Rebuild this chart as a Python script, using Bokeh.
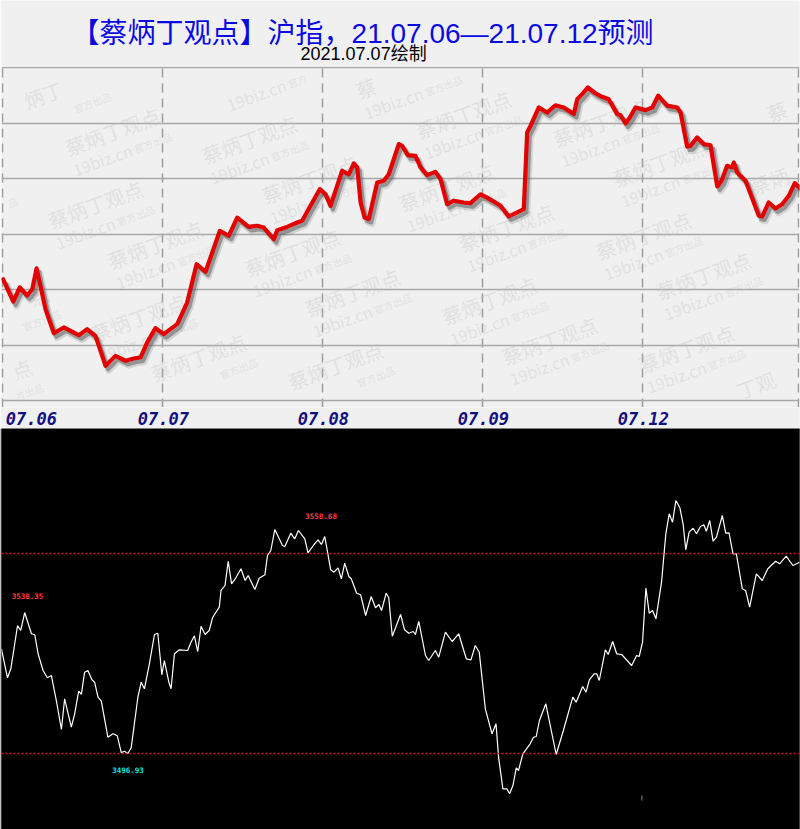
import numpy as np
from bokeh.plotting import figure
from bokeh.models import Range1d, FixedTicker, Span
from bokeh.layouts import column
from bokeh.core.properties import value
from bokeh.embed import file_html
from bokeh.resources import INLINE

# ---------------- data ----------------
TITLE = "【蔡炳丁观点】沪指，21.07.06—21.07.12预测"
SUBTITLE = "2021.07.07绘制"
DAY_LABELS = ["07.06", "07.07", "07.08", "07.09", "07.12"]
DAY_TICKS = [0, 1, 2, 3, 4]
LABEL_POS = [0.18, 1.006, 2.006, 3.006, 4.006]
GRID_Y = [3450, 3475, 3500, 3525, 3550, 3575, 3600]
WM_NAME = "蔡炳丁观点"
WM_SITE = "19biz.cn"
WM_TAG = "官方出品"

# forecast curve (x in trading days from 07.06 open, y index points)
TOP_X = [0.004, 0.067, 0.108, 0.154, 0.186, 0.213, 0.269, 0.321, 0.383, 0.477,
         0.529, 0.581, 0.644, 0.706, 0.769, 0.821, 0.863, 0.904, 0.956, 1.008,
         1.092, 1.154, 1.213, 1.269, 1.358, 1.414, 1.467, 1.539, 1.592, 1.633,
         1.696, 1.717, 1.779, 1.842, 1.873, 1.925, 1.983, 2.019, 2.050, 2.123,
         2.164, 2.196, 2.217, 2.238, 2.263, 2.289, 2.342, 2.383, 2.414, 2.477,
         2.498, 2.533, 2.581, 2.613, 2.654, 2.706, 2.738, 2.779, 2.821, 2.883,
         2.925, 2.988, 3.029, 3.081, 3.113, 3.164, 3.217, 3.258, 3.279, 3.300,
         3.352, 3.404, 3.456, 3.508, 3.571, 3.592, 3.623, 3.658, 3.706, 3.748,
         3.789, 3.842, 3.863, 3.894, 3.921, 3.956, 4.019, 4.061, 4.098, 4.154,
         4.217, 4.238, 4.279, 4.300, 4.342, 4.383, 4.425, 4.467, 4.494, 4.529,
         4.561, 4.571, 4.592, 4.644, 4.727, 4.748, 4.789, 4.831, 4.873, 4.914,
         4.952, 4.988]
TOP_Y = [3504.6, 3494.6, 3500.9, 3497.3, 3500.1, 3509.5, 3491.1, 3480.3, 3482.9, 3479.4,
         3482.1, 3479.1, 3465.6, 3470.1, 3467.9, 3468.9, 3469.4, 3476.1, 3482.6, 3479.9,
         3484.4, 3494.1, 3511.4, 3508.0, 3526.4, 3524.2, 3532.4, 3528.2, 3528.7, 3527.9,
         3522.7, 3526.7, 3528.2, 3530.2, 3531.0, 3537.7, 3545.2, 3542.9, 3537.7, 3553.5,
         3551.9, 3556.8, 3555.0, 3539.2, 3532.4, 3531.7, 3548.2, 3549.0, 3551.9, 3565.5,
         3564.7, 3560.5, 3560.2, 3555.0, 3551.5, 3553.0, 3549.7, 3538.4, 3540.0, 3539.2,
         3538.9, 3542.9, 3541.4, 3539.2, 3537.7, 3532.9, 3534.7, 3536.2, 3570.7, 3573.7,
         3582.0, 3579.7, 3583.0, 3582.0, 3579.0, 3585.7, 3588.0, 3591.0, 3588.4, 3586.8,
         3585.7, 3579.0, 3578.5, 3574.8, 3577.5, 3582.0, 3580.8, 3582.0, 3587.3, 3582.8,
         3582.0, 3579.7, 3564.4, 3564.7, 3568.5, 3565.5, 3565.0, 3546.4, 3549.0, 3555.7,
         3555.0, 3557.2, 3552.7, 3549.0, 3533.2, 3532.9, 3539.2, 3536.5, 3538.4, 3542.2,
         3547.9, 3545.5]

# reference curve (lower black panel)
BOT_X = [-0.013, 0.025, 0.046, 0.088, 0.108, 0.133, 0.175, 0.196, 0.217, 0.248,
         0.275, 0.300, 0.331, 0.363, 0.383, 0.425, 0.446, 0.471, 0.488, 0.508,
         0.529, 0.554, 0.571, 0.592, 0.613, 0.654, 0.686, 0.713, 0.738, 0.758,
         0.779, 0.800, 0.842, 0.863, 0.883, 0.914, 0.946, 0.967, 0.992, 1.008,
         1.036, 1.050, 1.071, 1.102, 1.154, 1.175, 1.196, 1.217, 1.238, 1.263,
         1.289, 1.311, 1.352, 1.363, 1.388, 1.408, 1.429, 1.456, 1.488, 1.514,
         1.533, 1.575, 1.602, 1.638, 1.654, 1.675, 1.700, 1.748, 1.763, 1.800,
         1.825, 1.848, 1.888, 1.908, 1.946, 1.971, 1.992, 2.013, 2.050, 2.071,
         2.096, 2.117, 2.138, 2.164, 2.179, 2.213, 2.238, 2.269, 2.304, 2.331,
         2.352, 2.369, 2.398, 2.414, 2.436, 2.488, 2.513, 2.539, 2.567, 2.581,
         2.602, 2.644, 2.664, 2.706, 2.727, 2.769, 2.811, 2.852, 2.900, 2.929,
         2.956, 2.981, 3.019, 3.061, 3.086, 3.102, 3.129, 3.154, 3.171, 3.192,
         3.213, 3.227, 3.254, 3.300, 3.321, 3.338, 3.358, 3.398, 3.463, 3.508,
         3.567, 3.588, 3.629, 3.650, 3.671, 3.700, 3.717, 3.733, 3.771, 3.789,
         3.817, 3.842, 3.873, 3.936, 3.967, 3.983, 4.004, 4.025, 4.046, 4.067,
         4.088, 4.123, 4.150, 4.171, 4.192, 4.213, 4.238, 4.258, 4.275, 4.296,
         4.321, 4.342, 4.367, 4.388, 4.404, 4.425, 4.446, 4.467, 4.504, 4.525,
         4.546, 4.571, 4.592, 4.629, 4.650, 4.675, 4.717, 4.754, 4.789, 4.838,
         4.863, 4.904, 4.946, 4.988]
BOT_Y = [3529.26, 3520.30, 3523.08, 3536.45, 3534.91, 3540.46, 3533.89, 3533.58, 3527.71, 3522.56,
         3520.30, 3521.01, 3513.29, 3504.34, 3513.82, 3505.05, 3509.19, 3516.17, 3515.15, 3522.03,
         3522.56, 3519.68, 3518.94, 3514.31, 3513.08, 3501.96, 3503.01, 3502.39, 3497.20, 3497.64,
         3496.93, 3498.69, 3514.31, 3518.94, 3516.91, 3524.62, 3533.67, 3534.07, 3521.23, 3525.64,
         3518.94, 3516.91, 3527.71, 3528.95, 3528.73, 3531.29, 3533.27, 3528.42, 3536.23, 3533.67,
         3534.91, 3539.01, 3542.10, 3547.26, 3548.80, 3556.30, 3549.32, 3551.18, 3553.96, 3550.34,
         3551.89, 3547.57, 3551.05, 3552.10, 3558.06, 3559.61, 3566.09, 3561.15, 3560.84, 3564.95,
         3563.22, 3565.78, 3563.22, 3558.90, 3561.46, 3562.91, 3561.46, 3563.93, 3553.65, 3552.91,
         3554.26, 3550.87, 3555.69, 3551.58, 3550.87, 3546.42, 3545.93, 3539.54, 3545.40, 3541.91,
         3542.93, 3541.08, 3546.42, 3545.00, 3533.15, 3539.85, 3535.12, 3534.07, 3534.60, 3533.67,
         3537.69, 3527.19, 3525.64, 3528.73, 3526.66, 3534.38, 3531.51, 3533.89, 3526.17, 3525.86,
         3530.28, 3528.21, 3510.73, 3503.01, 3506.10, 3495.79, 3486.03, 3486.03, 3484.49, 3487.05,
         3492.51, 3491.68, 3496.84, 3499.92, 3501.96, 3502.18, 3507.12, 3512.28, 3496.62, 3504.03,
         3514.31, 3512.77, 3517.62, 3515.86, 3519.68, 3521.54, 3521.54, 3519.47, 3528.95, 3527.50,
         3531.51, 3527.71, 3527.50, 3524.10, 3527.19, 3526.88, 3531.29, 3547.97, 3540.25, 3541.08,
         3538.52, 3549.82, 3564.76, 3570.94, 3568.34, 3575.04, 3572.79, 3567.85, 3559.82, 3565.26,
         3566.49, 3564.76, 3567.02, 3567.54, 3565.56, 3568.87, 3562.48, 3563.71, 3570.41, 3564.95,
         3565.07, 3558.59, 3558.59, 3547.78, 3547.26, 3542.10, 3552.41, 3550.34, 3553.96, 3556.30,
         3555.50, 3557.85, 3554.98, 3555.99]

LEVELS = [3558.68, 3496.93]                 # dotted reference lines
MARK_TEXT = ["3558.68", "3538.35", "3496.93"]
MARK_VAL = [3558.68, 3538.35, 3496.93]
MARK_X = [1.99, 0.15, 0.78]
MARK_COLOR = ["#ff3b3b", "#ff3b3b", "#19e6e6"]

# ---------------- layout constants ----------------
W = 800
PX_PER_DAY = 160.0
PTS_PER_PX = 150.0 / 333.0
BG = "#f0f0f0"
CJK = value("Liberation Sans, Noto Sans CJK SC")

# ---------- title strip ----------
tf = figure(width=W, height=66, x_range=Range1d(0, 800), y_range=Range1d(66, 0),
            x_axis_location=None, y_axis_location=None, toolbar_location=None,
            output_backend="svg", min_border=0, outline_line_color=None,
            background_fill_color=BG, border_fill_color=BG)
tf.grid.visible = False
tf.text(x=[362], y=[33], text=[TITLE], text_font=CJK, text_font_size="28px",
        text_color="#0a0ae0", text_align="center", text_baseline="middle")
tf.text(x=[363], y=[53], text=[SUBTITLE], text_font=CJK, text_font_size="18px",
        text_color="#000000", text_align="center", text_baseline="middle")

# ---------- forecast panel ----------
x0 = -1 / PX_PER_DAY
x1 = 797 / PX_PER_DAY
ytop = 3450 + 334 * PTS_PER_PX
ybot = 3450 - 7 * PTS_PER_PX
cf = figure(width=W, height=341, x_range=Range1d(x0, x1), y_range=Range1d(ybot, ytop),
            x_axis_location=None, y_axis_location=None, toolbar_location=None,
            output_backend="svg", min_border_left=1, min_border_right=1,
            min_border_top=0, min_border_bottom=0, outline_line_color=None,
            background_fill_color=BG, border_fill_color=BG)

# watermarks (decorative lattice: two tiles per cell); pieces that would be
# cut by the frame edge are dropped character by character
th = np.deg2rad(20.0)
u = np.array([np.cos(th), -np.sin(th)])
nv = np.array([np.sin(th), np.cos(th)])
A0 = np.array([5.0, 108.0])
w1 = np.array([154.0, -65.0])
w2 = np.array([43.0, 113.0])
pair = np.array([60.0, 40.0])
FX0, FX1, FY0, FY1 = 1.0, 799.0, 66.0, 407.0


def inside(p, m):
    return FX0 + m <= p[0] <= FX1 - m and FY0 + m <= p[1] <= FY1 - m


wm = {}  # (size, align) -> list of (point, text)


def put(key, p, t):
    wm.setdefault(key, []).append((p, t))


for i in range(-4, 9):
    for j in range(-4, 9):
        for extra in (np.zeros(2), pair):
            P = A0 + i * w1 + j * w2 + extra
            c1 = [P + (10 + 20 * k) * u for k in range(len(WM_NAME))]
            ok1 = [inside(c, 19) for c in c1]
            if all(ok1):
                put((20, "left"), P, WM_NAME)
            else:
                for k, c in enumerate(c1):
                    if ok1[k]:
                        put((20, "center"), c, WM_NAME[k])
            Q = P + 23 * nv
            if inside(Q, 12) and inside(Q + 62 * u, 12):
                put((16, "left"), Q, WM_SITE)
            R = Q + 64 * u + 1 * nv
            c3 = [R + (5 + 10 * k) * u for k in range(len(WM_TAG))]
            ok3 = [inside(c, 10) for c in c3]
            if all(ok3):
                put((10, "left"), R, WM_TAG)
            else:
                for k, c in enumerate(c3):
                    if ok3[k]:
                        put((10, "center"), c, WM_TAG[k])

wm_font = value("Noto Sans CJK SC")
for (size, align), items in wm.items():
    pts = np.array([p for p, _ in items])
    xs = (pts[:, 0] - 2) / PX_PER_DAY
    ys = 3450 + (400 - pts[:, 1]) * PTS_PER_PX
    cf.text(x=xs, y=ys, text=[t for _, t in items], angle=th, text_font=wm_font,
            text_font_size=f"{size}px", text_color="#c0c0c0", text_alpha=0.34,
            text_align=align, text_baseline="middle")

# grids
cf.xgrid.ticker = FixedTicker(ticks=DAY_TICKS + [x1 - 0.005])
cf.xgrid.grid_line_color = "#9c9c9c"
cf.xgrid.grid_line_width = 1.5
cf.xgrid.grid_line_dash = "9 6"
cf.ygrid.ticker = FixedTicker(ticks=GRID_Y)
cf.ygrid.grid_line_color = "#a8a8a8"
cf.ygrid.grid_line_width = 1.5

# shadow + red line
sx = 2.5 / PX_PER_DAY
sy = 3.5 * PTS_PER_PX
tx = np.array(TOP_X)
ty = np.array(TOP_Y)
cf.line(tx + sx * 1.3, ty - sy * 1.3, line_color="#555555", line_width=6.5, line_alpha=0.18,
        line_join="round")
cf.line(tx + sx, ty - sy, line_color="#555555", line_width=4.2, line_alpha=0.5,
        line_join="round")
cf.line(tx, ty, line_color="#e30000", line_width=4.2, line_join="round", line_cap="round")

# ---------- date label strip ----------
lf = figure(width=W, height=21, x_range=cf.x_range, y_range=Range1d(21, 0),
            x_axis_location=None, y_axis_location=None, toolbar_location=None,
            output_backend="svg", min_border_left=1, min_border_right=1,
            min_border_top=0, min_border_bottom=0, outline_line_color=None,
            background_fill_color=BG, border_fill_color=BG)
lf.grid.visible = False
lf.text(x=LABEL_POS, y=[11] * len(LABEL_POS), text=DAY_LABELS,
        text_font=value("DejaVu Sans Mono"), text_font_style="bold italic",
        text_font_size="17px", text_color="#111180",
        text_align="center", text_baseline="middle")

# ---------- lower black panel ----------
VAL_PER_PX = 0.30875
b_top = 3496.93 + 325 * VAL_PER_PX
b_bot = 3496.93 - 76 * VAL_PER_PX
bf = figure(width=W, height=401, x_range=Range1d(-2 / PX_PER_DAY, 798 / PX_PER_DAY),
            y_range=Range1d(b_bot, b_top), x_axis_location=None, y_axis_location=None,
            toolbar_location=None, output_backend="svg", min_border=0,
            outline_line_color=None, background_fill_color="#000000",
            border_fill_color="#000000")
bf.grid.visible = False
for lv in LEVELS:
    bf.add_layout(Span(location=lv, dimension="width", line_color="#d01818",
                       line_width=1.3, line_dash="2 2"))
bf.line(BOT_X, BOT_Y, line_color="#ffffff", line_width=1.2)
bf.text(x=MARK_X, y=MARK_VAL, text=MARK_TEXT, text_color=MARK_COLOR,
        y_offset=[-38, -23, 16], text_font=value("DejaVu Sans Mono"),
        text_font_style="bold", text_font_size="7.5px",
        text_align="center", text_baseline="middle")
bf.segment(x0=[DAY_TICKS[4]], y0=[3496.93 - 42 * VAL_PER_PX], x1=[DAY_TICKS[4]],
           y1=[3496.93 - 47 * VAL_PER_PX], line_color="#8a8a8a", line_width=1)

layout = column(tf, cf, lf, bf, spacing=0)
open("out.html", "w").write(file_html(layout, INLINE))
